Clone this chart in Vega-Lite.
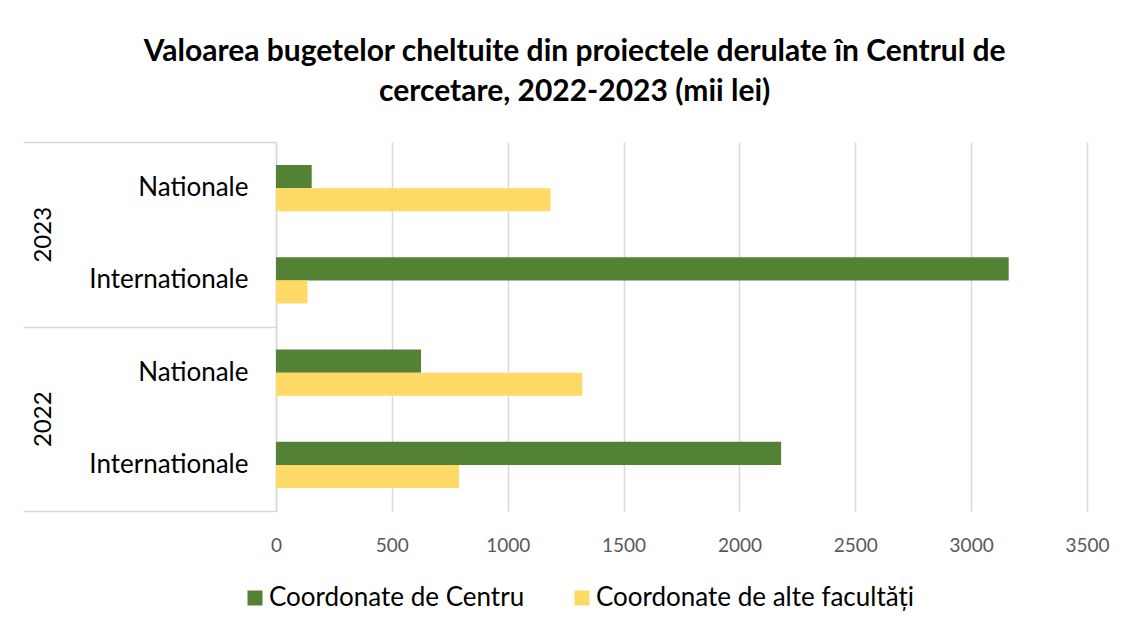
{
  "$schema": "https://vega.github.io/schema/vega-lite/v6.json",
  "width": 811,
  "height": 369,
  "padding": {"left": 22, "top": 37, "right": 20, "bottom": 10},
  "autosize": {"type": "pad"},
  "background": "white",
  "title": {
    "text": ["Valoarea bugetelor cheltuite din proiectele derulate în Centrul de", "cercetare, 2022-2023  (mii lei)"],
    "font": "Lato", "fontSize": 30, "fontWeight": "bold", "color": "#000000",
    "anchor": "middle", "frame": "bounds", "lineHeight": 40, "offset": 34, "dx": 9
  },
  "datasets": {
    "bars": [
      {"key": "2023|Nationale", "series": "Coordonate de Centru", "value": 154},
      {"key": "2023|Nationale", "series": "Coordonate de alte facultăți", "value": 1185},
      {"key": "2023|Internationale", "series": "Coordonate de Centru", "value": 3162},
      {"key": "2023|Internationale", "series": "Coordonate de alte facultăți", "value": 136},
      {"key": "2022|Nationale", "series": "Coordonate de Centru", "value": 626},
      {"key": "2022|Nationale", "series": "Coordonate de alte facultăți", "value": 1322},
      {"key": "2022|Internationale", "series": "Coordonate de Centru", "value": 2180},
      {"key": "2022|Internationale", "series": "Coordonate de alte facultăți", "value": 790}
    ],
    "years": [{"year": "2023"}, {"year": "2022"}]
  },
  "layer": [
    {
      "data": {"name": "bars"},
      "mark": {"type": "bar"},
      "encoding": {
        "y": {
          "field": "key", "type": "nominal",
          "sort": ["2023|Nationale", "2023|Internationale", "2022|Nationale", "2022|Internationale"],
          "scale": {"paddingInner": 0.5, "paddingOuter": 0.25},
          "axis": {
            "title": null, "labelExpr": "split(datum.value, '|')[1]", "ticks": false,
            "domain": true, "domainColor": "#d9d9d9", "domainWidth": 1.5,
            "labelFont": "Lato", "labelFontSize": 26, "labelColor": "#000000", "labelPadding": 28
          }
        },
        "yOffset": {"field": "series", "type": "nominal", "sort": ["Coordonate de Centru", "Coordonate de alte facultăți"]},
        "x": {
          "field": "value", "type": "quantitative",
          "scale": {"domain": [0, 3500], "nice": false},
          "axis": {
            "title": null, "values": [0, 500, 1000, 1500, 2000, 2500, 3000, 3500], "format": "d",
            "domain": false, "ticks": false, "grid": true, "gridColor": "#d9d9d9", "gridWidth": 1.5,
            "labelFlush": false,
            "labelFont": "Lato", "labelFontSize": 19, "labelColor": "#595959", "labelPadding": 25
          }
        },
        "color": {
          "field": "series", "type": "nominal",
          "sort": ["Coordonate de Centru", "Coordonate de alte facultăți"],
          "scale": {"range": ["#548235", "#FFD966"]},
          "legend": {
            "title": null, "orient": "none", "legendX": -34, "legendY": 443, "direction": "horizontal",
            "symbolType": "square", "symbolSize": 225, "symbolStrokeWidth": 0,
            "labelFont": "Lato", "labelFontSize": 26, "labelColor": "#000000", "labelOffset": 1,
            "columnPadding": 44, "labelLimit": 400
          }
        }
      }
    },
    {
      "data": {"name": "years"},
      "mark": {"type": "text", "text": ""},
      "encoding": {
        "y": {
          "field": "year", "type": "nominal", "sort": ["2023", "2022"],
          "scale": {"paddingInner": 0, "paddingOuter": 0},
          "axis": {
            "orient": "left", "title": null, "tickBand": "extent", "tickSize": 253,
            "tickColor": "#d9d9d9", "tickWidth": 1.5, "domain": false,
            "labelAngle": -90, "labelPadding": -32,
            "labelFont": "Lato", "labelFontSize": 24, "labelColor": "#000000"
          }
        }
      }
    }
  ],
  "resolve": {"scale": {"y": "independent"}},
  "config": {"view": {"stroke": null}}
}
